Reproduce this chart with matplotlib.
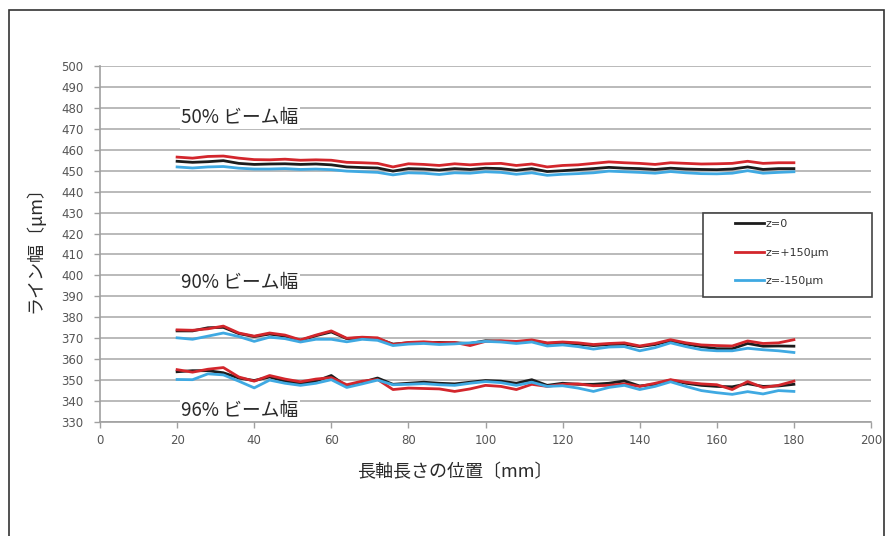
import numpy as np
import matplotlib
matplotlib.use("Agg")
import matplotlib.pyplot as plt
from matplotlib.patches import Rectangle

plt.rcParams["font.family"] = ["Noto Sans CJK JP", "DejaVu Sans"]

# position along long axis (mm)
x_mm = np.arange(20, 181, 4)

# 50% beam width
w50_z0 = [454.5, 454.0, 454.3, 454.8, 453.5, 453.0, 453.2, 453.3, 453.0, 453.2,
          452.8, 451.8, 451.5, 451.3, 449.8, 451.0, 450.8, 450.3, 451.0, 450.6,
          451.2, 451.0, 450.2, 451.0, 449.6, 450.0, 450.5, 451.0, 451.6, 451.2,
          451.0, 450.6, 451.2, 450.8, 450.6, 450.5, 450.8, 451.8, 450.6, 451.0, 451.0]
w50_p150 = [456.5, 456.0, 456.8, 457.0, 456.0, 455.3, 455.2, 455.5, 455.0, 455.2,
            455.0, 454.0, 453.8, 453.5, 451.8, 453.3, 453.0, 452.5, 453.3, 452.8,
            453.3, 453.5, 452.5, 453.2, 451.8, 452.5, 452.8, 453.5, 454.2, 453.8,
            453.5, 453.0, 453.8, 453.5, 453.2, 453.3, 453.5, 454.5, 453.5, 453.8, 453.8]
w50_m150 = [451.8, 451.3, 451.8, 452.0, 451.2, 450.8, 450.8, 451.0, 450.6, 450.8,
            450.5, 449.8, 449.5, 449.2, 448.0, 449.0, 448.8, 448.2, 449.0, 448.8,
            449.5, 449.2, 448.3, 449.0, 447.8, 448.3, 448.6, 449.0, 449.8, 449.5,
            449.2, 448.8, 449.6, 449.0, 448.6, 448.5, 448.8, 450.0, 448.8, 449.2, 449.5]

# 90% beam width
w90_z0 = [373.5, 373.5, 375.0, 375.2, 372.2, 370.8, 372.0, 371.0, 369.0, 371.2,
          373.0, 369.8, 370.2, 369.8, 367.2, 367.8, 368.0, 368.0, 367.8, 367.5,
          368.8, 368.6, 368.2, 368.8, 367.5, 367.8, 367.2, 366.5, 367.0, 367.2,
          366.0, 367.0, 368.8, 367.2, 366.0, 365.0, 365.0, 367.5, 366.2, 366.3, 366.2]
w90_p150 = [374.0, 373.8, 374.5, 375.8, 372.5, 371.0, 372.5, 371.5, 369.2, 371.5,
            373.5, 370.0, 370.5, 370.2, 367.0, 368.0, 368.3, 367.8, 368.0, 366.5,
            368.5, 368.8, 368.5, 369.2, 367.8, 368.2, 367.8, 367.0, 367.5, 367.8,
            366.3, 367.5, 369.3, 367.8, 366.8, 366.5, 366.3, 368.7, 367.5, 367.8, 369.3]
w90_m150 = [370.2, 369.5, 371.0, 372.5, 370.8, 368.5, 370.5, 369.8, 368.2, 369.5,
            369.5, 368.3, 369.5, 369.0, 366.5, 367.2, 367.5, 367.0, 367.3, 367.8,
            368.5, 368.2, 367.5, 368.2, 366.3, 366.8, 366.0, 364.8, 365.8, 366.0,
            364.0, 365.5, 367.8, 366.0, 364.5, 364.0, 364.0, 365.2, 364.5, 364.0, 363.2]

# 96% beam width
w96_z0 = [354.0, 354.5, 354.5, 353.5, 351.0, 349.8, 351.5, 349.5, 348.3, 349.5,
          352.2, 347.0, 349.0, 351.0, 348.0, 348.5, 349.0, 348.5, 348.2, 349.0,
          349.8, 349.5, 348.5, 350.2, 347.5, 348.5, 348.0, 348.0, 348.5, 349.6,
          347.2, 348.0, 350.0, 348.5, 347.5, 347.0, 346.8, 348.3, 347.0, 347.2, 348.0]
w96_p150 = [355.0, 353.8, 355.2, 356.0, 351.5, 349.5, 352.2, 350.5, 349.2, 350.5,
            351.2, 347.8, 349.5, 350.3, 345.5, 346.2, 346.0, 345.8, 344.6, 345.8,
            347.5, 347.0, 345.5, 348.0, 347.0, 348.0, 348.2, 347.3, 347.5, 348.2,
            347.0, 348.5, 350.2, 349.0, 348.2, 347.8, 345.5, 349.3, 346.5, 347.5, 349.5]
w96_m150 = [350.3, 350.2, 353.0, 352.5, 349.5, 346.3, 350.0, 348.5, 347.5, 348.5,
            350.2, 346.5, 348.2, 350.0, 347.8, 348.0, 348.3, 347.8, 347.5, 348.5,
            349.3, 348.8, 347.5, 349.0, 347.0, 347.3, 346.2, 344.6, 346.5, 347.5,
            345.5, 347.0, 349.2, 347.0, 345.0, 344.0, 343.2, 344.5, 343.4, 345.0, 344.6]

series_labels = ["z=0", "z=+150μm", "z=-150μm"]
group_labels = ["50% ビーム幅", "90% ビーム幅", "96% ビーム幅"]
group_label_y = [475.5, 396.8, 335.7]

COLORS = ["#1c1c1c", "#d3262c", "#3fa9e2"]

fig = plt.figure(figsize=(8.85, 5.36), dpi=100)
ax = fig.add_axes([100 / 885, 1 - 422 / 536, 771 / 885, 356 / 536])

groups = [(w50_z0, w50_p150, w50_m150),
          (w90_z0, w90_p150, w90_m150),
          (w96_z0, w96_p150, w96_m150)]
handles = []
for gi, grp in enumerate(groups):
    for si, vals in enumerate(grp):
        ln, = ax.plot(x_mm, vals, color=COLORS[si], lw=2.0, zorder=3)
        if gi == 0:
            handles.append(ln)

ax.set_xlim(0, 200)
ax.set_ylim(330, 500)
ax.set_xticks(np.arange(0, 201, 20))
ax.set_yticks(np.arange(330, 501, 10))
ax.yaxis.grid(True, color="#b4b4b4", lw=1.3)
ax.set_axisbelow(True)
for s in ["top", "right"]:
    ax.spines[s].set_visible(False)
for s in ["left", "bottom"]:
    ax.spines[s].set_color("#a0a0a0")
    ax.spines[s].set_linewidth(1.2)
ax.tick_params(axis="x", colors="#a0a0a0", length=4, width=1, labelsize=8.5,
               labelcolor="#555555", pad=5)
ax.tick_params(axis="y", colors="#a0a0a0", length=4, width=1, labelsize=8.5,
               labelcolor="#555555", pad=8)
for lab in ax.get_xticklabels() + ax.get_yticklabels():
    lab.set_family(["DejaVu Sans"])

for txt, yv in zip(group_labels, group_label_y):
    ax.text(21, yv, txt, fontsize=13.5, va="center", ha="left", color="#2a2a2a",
            bbox=dict(facecolor="white", edgecolor="none", pad=1), zorder=2)

fig.text(35 / 885, 1 - 245 / 536, "ライン幅〔μm〕", rotation=90, fontsize=13,
         va="center", ha="center", color="#2a2a2a")
fig.text(455 / 885, 1 - 472 / 536, "長軸長さの位置〔mm〕", fontsize=13,
         va="center", ha="center", color="#2a2a2a")

# legend box
fig.patches.append(Rectangle((703 / 885, 1 - 297 / 536), 169 / 885, 84 / 536,
                             transform=fig.transFigure, facecolor="white",
                             edgecolor="#444444", lw=1.2, zorder=4))
leg = fig.legend(handles, series_labels, loc="upper left",
                 bbox_to_anchor=(733 / 885, 1 - 217 / 536), frameon=False,
                 fontsize=8, handlelength=2.6, handletextpad=0.1,
                 labelspacing=1.65, borderaxespad=0, borderpad=0.2)
leg.set_zorder(5)
for t in leg.get_texts():
    t.set_color("#333333")
    t.set_family(["DejaVu Sans"])

# outer frame
fig.patches.append(Rectangle((9 / 885, -0.05), 875 / 885, 1.05 - 10 / 536,
                             transform=fig.transFigure, facecolor="none",
                             edgecolor="#333333", lw=1.2))

fig.savefig("out.png", dpi=100)
plt.close(fig)
